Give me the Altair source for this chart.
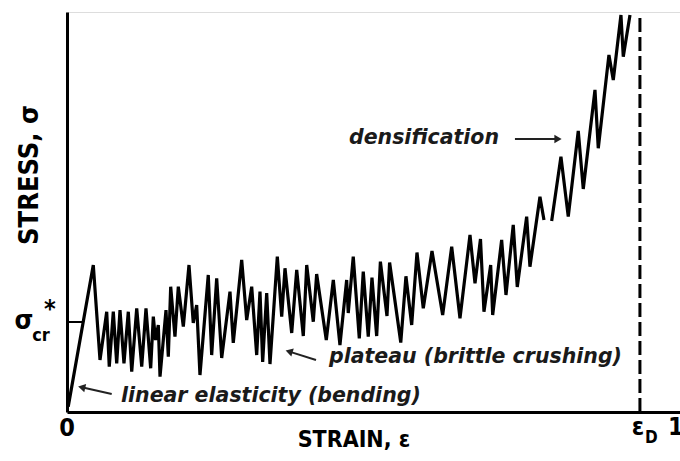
import altair as alt
import pandas as pd

# Stress-strain curve of a brittle foam (stress in units of the crushing stress)
strain = [0.002, 0.0431, 0.0541, 0.0651, 0.0693, 0.0759, 0.0815, 0.0869, 0.0934, 0.1005,
          0.1061, 0.1143, 0.1225, 0.1295, 0.1372, 0.1415, 0.1451, 0.1497, 0.1525, 0.1623,
          0.1661, 0.1700, 0.1770, 0.1825, 0.1907, 0.2000, 0.2070, 0.2126, 0.2180, 0.2316,
          0.2372, 0.2454, 0.2536, 0.2672, 0.2726, 0.2864, 0.2946, 0.3028, 0.3110, 0.3164,
          0.3208, 0.3274, 0.3328, 0.3448, 0.3520, 0.3574, 0.3684, 0.3766, 0.3874, 0.3930,
          0.4038, 0.4093, 0.4251, 0.4366, 0.4475, 0.4585, 0.4611, 0.4693, 0.4792, 0.4857,
          0.4939, 0.5000, 0.5077, 0.5138, 0.5246, 0.5289, 0.5472, 0.5557, 0.5651, 0.5738,
          0.5841, 0.5984, 0.6159, 0.6307, 0.6443, 0.6607, 0.6689, 0.6779, 0.6836, 0.6946,
          0.6979, 0.7126, 0.7197, 0.7316, 0.7382, 0.7536, 0.7590, 0.7754, 0.7820,
          0.7946, 0.8098, 0.8218, 0.8382, 0.8464, 0.8656, 0.8710, 0.8885, 0.8956, 0.9082,
          0.9120, 0.9230]
stress = [0.06, 1.633, 0.578, 1.114, 0.503, 1.114, 0.541, 1.133, 0.541, 1.114,
          0.448, 1.152, 0.503, 1.152, 0.486, 1.059, 0.800, 0.967, 0.392, 1.133,
          0.614, 1.392, 0.837, 1.392, 0.948, 1.633, 0.989, 1.189, 0.411, 1.522,
          0.633, 1.486, 0.600, 1.337, 0.767, 1.689, 1.022, 1.392, 0.633, 1.337,
          0.556, 1.322, 0.533, 1.726, 1.059, 1.597, 0.878, 1.578, 0.844, 1.633,
          1.003, 1.533, 0.800, 1.467, 0.744, 1.467, 1.100, 1.726, 0.819, 1.559,
          0.837, 1.494, 0.844, 1.670, 1.067, 1.661, 0.772, 1.508, 0.967, 1.772,
          1.152, 1.789, 1.078, 1.837, 1.041, 1.967, 1.430, 1.922, 1.114, 1.633,
          1.078, 1.911, 1.300, 2.078, 1.389, 2.170, 1.614, 2.392, 2.133,
          2.122, 2.837, 2.170, 3.122, 2.478, 3.578, 2.930, 3.967, 3.689, 4.411,
          3.948, 4.411]
# the trace breaks once in the densification regime
segment = [1] * 89 + [2] * 12

eps_d = 0.9393      # densification strain
sigma_cr = 1.0      # crushing stress
stress_top = 4.411

curve = pd.DataFrame({"strain": strain, "stress": stress, "seg": segment,
                      "idx": list(range(len(strain)))})

xs = alt.Scale(domain=[0, 1.005], nice=False, zero=False)
ys = alt.Scale(domain=[0, 4.444], nice=False, zero=False)
bare_axis = alt.Axis(domain=True, domainWidth=3, domainColor="black", ticks=False,
                     labels=False, grid=False, title=None)

line = alt.Chart(curve).mark_line(color="black", strokeWidth=3.2, strokeJoin="miter").encode(
    x=alt.X("strain:Q", scale=xs, axis=bare_axis),
    y=alt.Y("stress:Q", scale=ys, axis=bare_axis),
    detail="seg:N",
    order="idx:Q",
)

dens = alt.Chart(pd.DataFrame({"x": [eps_d], "y": [0.0], "y2": [stress_top]})).mark_rule(
    color="black", strokeWidth=3, strokeDash=[14, 5]
).encode(x=alt.X("x:Q", scale=xs), y=alt.Y("y:Q", scale=ys), y2="y2:Q")

tick = alt.Chart(pd.DataFrame({"x": [0.0], "x2": [0.025], "y": [sigma_cr]})).mark_rule(
    color="black", strokeWidth=2
).encode(x=alt.X("x:Q", scale=xs), x2="x2:Q", y=alt.Y("y:Q", scale=ys))

# annotation arrows
arrows = pd.DataFrame({
    "x": [0.0733, 0.4082, 0.7344],
    "y": [0.200, 0.578, 3.033],
    "x2": [0.0260, 0.3660, 0.8030],
    "y2": [0.272, 0.668, 3.033],
    "ang": [283, 287, 90],
})
shafts = alt.Chart(arrows).mark_rule(color="#222", strokeWidth=2).encode(
    x=alt.X("x:Q", scale=xs), x2="x2:Q", y=alt.Y("y:Q", scale=ys), y2="y2:Q")
heads = alt.Chart(arrows).mark_point(shape="triangle", filled=True, color="#222",
                                     size=70, opacity=1).encode(
    x=alt.X("x2:Q", scale=xs), y=alt.Y("y2:Q", scale=ys),
    angle=alt.Angle("ang:Q", scale=None))

notes = pd.DataFrame({
    "x": [0.0885, 0.4295, 0.4623],
    "y": [0.178, 0.611, 3.044],
    "t": ["linear elasticity (bending)", "plateau (brittle crushing)", "densification"],
})
note_text = alt.Chart(notes).mark_text(
    align="left", baseline="middle", font="DejaVu Sans", fontSize=20.5,
    fontStyle="italic", fontWeight="bold", color="#1a1a1a"
).encode(x=alt.X("x:Q", scale=xs), y=alt.Y("y:Q", scale=ys), text="t:N")

COND = "DejaVu Sans Condensed, Liberation Sans Narrow, Liberation Sans"

labels = pd.DataFrame({
    "x": [0.0, 0.936, 0.998, 0.4705, -0.0705],
    "y": [-0.178, -0.167, -0.167, -0.311, 1.011],
    "t": ["0", "\u03b5", "1", "STRAIN, \u03b5", "\u03c3"],
    "s": [25, 25, 25, 23, 27],
})
label_text = alt.Chart(labels).mark_text(
    align="center", baseline="middle", font=COND, fontWeight="bold", color="black"
).encode(x=alt.X("x:Q", scale=xs), y=alt.Y("y:Q", scale=ys), text="t:N",
         size=alt.Size("s:Q", scale=None))

small = pd.DataFrame({
    "x": [0.958, -0.0426, -0.0279],
    "y": [-0.285, 0.844, 1.144],
    "t": ["D", "cr", "*"],
    "s": [17, 18, 25],
})
small_text = alt.Chart(small).mark_text(
    align="center", baseline="middle", font=COND, fontWeight="bold", color="black"
).encode(x=alt.X("x:Q", scale=xs), y=alt.Y("y:Q", scale=ys), text="t:N",
         size=alt.Size("s:Q", scale=None))

ylab = alt.Chart(pd.DataFrame({"x": [-0.0607], "y": [2.633], "t": ["STRESS, \u03c3"]})).mark_text(
    align="center", baseline="middle", angle=270, font=COND, fontWeight="bold",
    fontSize=27, color="black"
).encode(x=alt.X("x:Q", scale=xs), y=alt.Y("y:Q", scale=ys), text="t:N")

chart = alt.layer(line, dens, tick, shafts, heads, note_text, label_text, small_text, ylab).properties(
    width=613, height=400,
    autosize=alt.AutoSizeParams(type="none"),
    padding={"left": 67, "top": 12, "right": 0, "bottom": 49},
).configure_view(stroke=None).configure(background="white")

chart.save("out.html", embed_options={"renderer": "svg", "actions": False})
